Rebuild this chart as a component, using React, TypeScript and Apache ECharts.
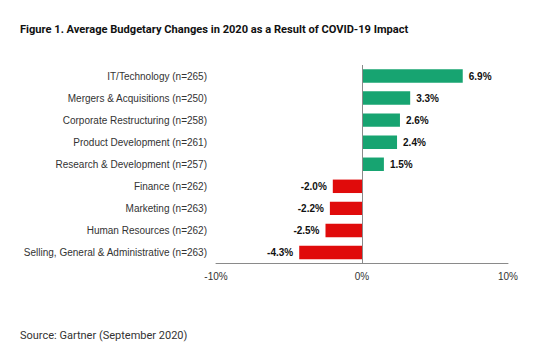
import React, { useEffect, useRef } from "react";
import * as echarts from "echarts";

const categories = [
  "IT/Technology (n=265)",
  "Mergers & Acquisitions (n=250)",
  "Corporate Restructuring (n=258)",
  "Product Development (n=261)",
  "Research & Development (n=257)",
  "Finance (n=262)",
  "Marketing (n=263)",
  "Human Resources (n=262)",
  "Selling, General & Administrative (n=263)",
];
const values = [6.9, 3.3, 2.6, 2.4, 1.5, -2.0, -2.2, -2.5, -4.3];
const titleText = "Figure 1. Average Budgetary Changes in 2020 as a Result of COVID-19 Impact";
const sourceText = "Source: Gartner (September 2020)";

const GREEN = "#17a471";
const RED = "#e00b0b";

export default function App() {
  const ref = useRef<HTMLDivElement>(null);
  useEffect(() => {
    if (!ref.current) return;
    const chart = echarts.init(ref.current, undefined, { renderer: "svg" });
    chart.setOption({
      animation: false,
      backgroundColor: "#ffffff",
      title: [
        {
          text: titleText,
          left: 15,
          top: 19,
          textStyle: { fontFamily: "Roboto", fontWeight: "bold", fontSize: 11.1, color: "#111" },
        },
        {
          text: sourceText,
          left: 15,
          top: 325,
          textStyle: { fontFamily: "Roboto", fontWeight: "normal", fontSize: 11, color: "#333" },
        },
      ],
      grid: { left: 216, right: 46, top: 65, bottom: 88.5, containLabel: false },
      xAxis: {
        type: "value",
        min: -10,
        max: 10,
        interval: 10,
        splitLine: { show: false },
        axisTick: { show: false },
        axisLine: { show: true, onZero: false, lineStyle: { color: "#8a8a8a", width: 1 } },
        axisLabel: {
          formatter: (v: number) => `${v}%`,
          fontFamily: "Liberation Sans",
          fontSize: 10,
          color: "#333",
          margin: 8,
        },
      },
      yAxis: {
        type: "category",
        data: categories,
        inverse: true,
        axisLine: { show: false },
        axisTick: { show: false },
        axisLabel: {
          fontFamily: "Liberation Sans",
          fontSize: 10,
          color: "#333",
          margin: 9,
        },
      },
      series: [
        {
          type: "bar",
          data: values.map((v) => ({
            value: v,
            itemStyle: { color: v >= 0 ? GREEN : RED },
            label: { position: v >= 0 ? "right" : "left" },
          })),
          barWidth: "61%",
          label: {
            show: true,
            formatter: (p: any) => `${p.value.toFixed(1)}%`,
            fontFamily: "Liberation Sans",
            fontWeight: "bold",
            fontSize: 10,
            color: "#111",
            distance: 6,
          },
          markLine: {
            silent: true,
            symbol: "none",
            label: { show: false },
            lineStyle: { color: "#8a8a8a", width: 1, type: "solid" },
            data: [{ xAxis: 0 }],
          },
        },
      ],
    });
    return () => chart.dispose();
  }, []);
  return <div ref={ref} style={{ width: 554, height: 352, position: "absolute", left: 0, top: 0 }} />;
}
